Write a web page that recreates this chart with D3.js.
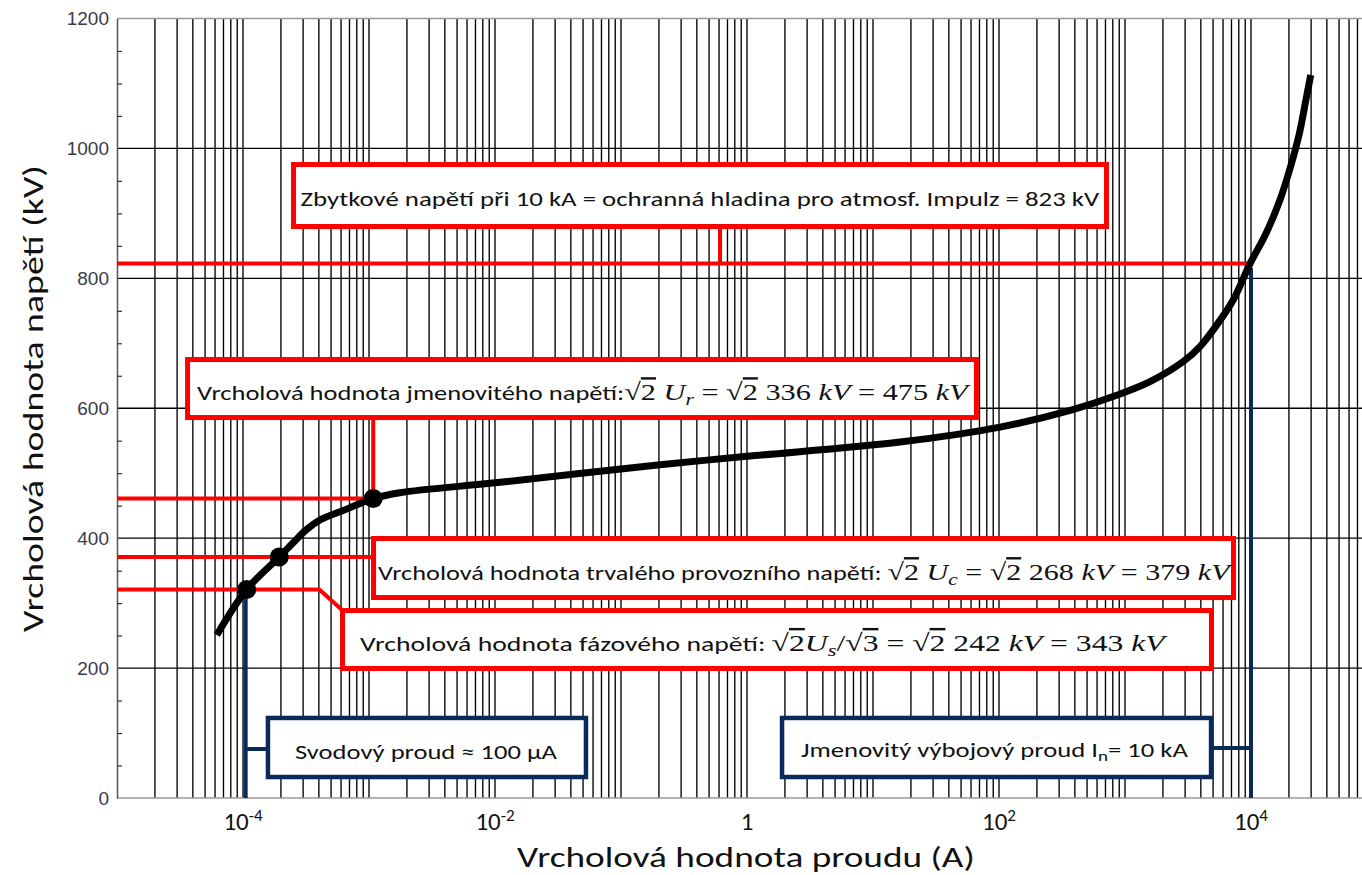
<!DOCTYPE html>
<html><head><meta charset="utf-8">
<script src="https://cdn.jsdelivr.net/npm/d3@7"></script>
<style>
html,body{margin:0;padding:0;background:#fff;}
svg{display:block;}
</style></head><body>
<svg id="chart" width="1362" height="875"></svg>
<script>
// ---------- DATA ----------
const curveCurrent = [6.2e-5, 1.07e-4, 1.94e-4, 2.49e-4, 3.16e-4, 4.08e-4, 6.22e-4, 1.08e-3, 1.76e-3, 1.1e-2, 0.204, 1, 16.4, 102, 386, 859, 1578, 2900, 3936, 5340, 7240, 9850, 1.315e4, 1.7e4, 2.06e4, 2.42e4, 2.73e4, 2.98e4];
const curveVoltage = [251, 321, 371, 392.5, 412.6, 428, 442.6, 461, 470, 486, 513, 526, 548, 571, 598, 620, 641, 672, 695, 728, 767, 823, 869, 921, 972, 1023, 1075, 1113];
const markerCurrent = [1.07e-4, 1.94e-4, 1.08e-3];
const markerVoltage = [321, 371, 461];
const residualCurrent = 1e4;
const residualVoltage = 823;
const leakageCurrent = 1.05e-4;
const yTickValues = [0, 200, 400, 600, 800, 1000, 1200];
const xTickValues = [1e-4, 1e-2, 1, 1e2, 1e4];
const xTickBase = ["10", "10", "1", "10", "10"];
const xTickSup = ["-4", "-2", "", "2", "4"];
const xTitle = "Vrcholová hodnota proudu (A)";
const yTitle = "Vrcholová hodnota napětí (kV)";

const boxTexts = [
  [["Zbytkové napětí při 10 kA = ochranná hladina pro atmosf. Impulz = 823 kV","t"]],
  [["Vrcholová hodnota jmenovitého napětí:","t"],["√","m"],["2","ov"],[" ","m"],["U","i"],["r","sub"],[" = √","m"],["2","ov"],[" 336 ","m"],["kV","i"],[" = 475 ","m"],["kV","i"]],
  [["Vrcholová hodnota trvalého provozního napětí: ","t"],["√","m"],["2","ov"],[" ","m"],["U","i"],["c","sub"],[" = √","m"],["2","ov"],[" 268 ","m"],["kV","i"],[" = 379 ","m"],["kV","i"]],
  [["Vrcholová hodnota fázového napětí: ","t"],["√","m"],["2","ov"],["U","i"],["s","sub"],["/√","m"],["3","ov"],[" = √","m"],["2","ov"],[" 242 ","m"],["kV","i"],[" = 343 ","m"],["kV","i"]],
  [["Svodový proud ≈ 100 µA","t"]],
  [["Jmenovitý výbojový proud I","t"],["n","tsub"],["= 10 kA","t"]]
];

// ---------- LAYOUT (annotation geometry in data units: log10 current, kV) ----------
const boxLayout = [
  {x0:-3.599, x1:2.853, v0:975.2, v1:879.8, color:"red",  sw:5,   tw:799, dx:0,    dy:10.5},
  {x0:-4.440, x1:1.821, v0:675.0, v1:585.7, color:"red",  sw:5,   tw:771, dx:0.5,  dy:11.5},
  {x0:-2.964, x1:3.861, v0:399.5, v1:308.6, color:"red",  sw:5,   tw:852, dx:0.5,  dy:12},
  {x0:-3.210, x1:3.686, v0:288.6, v1:199.4, color:"red",  sw:5,   tw:805, dx:-14.5,dy:11.5},
  {x0:-3.802, x1:-1.278,v0:123.2, v1:32.3,  color:"navy", sw:4.5, tw:262, dx:-1,   dy:11.5},
  {x0:0.278,  x1:3.683, v0:123.2, v1:32.3,  color:"navy", sw:4.5, tw:387, dx:-2,   dy:9.5}
];
const RED = "#ff0000", NAVY = "#0b2a5c";
const colorOf = c => c === "red" ? RED : NAVY;

const svg = d3.select("#chart");
const x = d3.scaleLog().domain([1e-5, 1e5]).range([117, 1377]);
const y = d3.scaleLinear().domain([0, 1200]).range([798, 18.5]);
const X = e => x(Math.pow(10, e));

// ---------- GRID ----------
const gridVals = [];
for (let k = -5; k <= 4; k++) for (let m = 1; m <= 9; m++) gridVals.push(m * Math.pow(10, k));
svg.append("g").selectAll("line").data(gridVals.filter(v => v > 1e-5)).join("line")
  .attr("x1", d => x(d)).attr("x2", d => x(d))
  .attr("y1", y(0)).attr("y2", y(1200))
  .attr("stroke", "#000").attr("stroke-width", 1.35);
svg.append("g").selectAll("line").data(yTickValues.filter(v => v > 0 && v < 1200)).join("line")
  .attr("x1", x(1e-5)).attr("x2", 1362)
  .attr("y1", d => y(d)).attr("y2", d => y(d))
  .attr("stroke", "#000").attr("stroke-width", 1.35);

// frame
svg.append("line").attr("x1", x(1e-5)).attr("x2", 1362).attr("y1", y(1200)).attr("y2", y(1200)).attr("stroke", "#9a9a9a").attr("stroke-width", 1.5);
svg.append("line").attr("x1", x(1e-5)).attr("x2", 1362).attr("y1", y(0)).attr("y2", y(0)).attr("stroke", "#9a9a9a").attr("stroke-width", 1.5);

// y axis
const yAxis = svg.append("g").attr("transform", `translate(${x(1e-5)},0)`)
  .call(d3.axisLeft(y).tickValues(yTickValues).tickFormat(d3.format("d")).tickSize(0).tickPadding(8));
yAxis.select(".domain").attr("stroke", "#555").attr("stroke-width", 1.5);
yAxis.selectAll("text").attr("font-family", "'Liberation Sans', Arial, sans-serif").attr("font-size", 19).attr("fill", "#3a3a48");
const minorY = d3.range(50, 1200, 50).filter(v => v % 200 !== 0);
const yMinor = svg.append("g").attr("transform", `translate(${x(1e-5)},0)`)
  .call(d3.axisRight(y).tickValues(minorY).tickSize(5).tickFormat(""));
yMinor.select(".domain").remove();
yMinor.selectAll("line").attr("stroke", "#333").attr("stroke-width", 1.2);

// x tick labels
const FONT = "Carlito, Lato, 'Open Sans', sans-serif";
const xl = svg.append("g").selectAll("text").data(xTickValues).join("text")
  .attr("x", d => x(d)).attr("y", 830)
  .attr("text-anchor", "middle")
  .attr("font-family", FONT).attr("font-size", 25).attr("fill", "#111");
xl.append("tspan").text((d, i) => xTickBase[i]);
xl.append("tspan").attr("font-size", 17).attr("baseline-shift", "55%").text((d, i) => xTickSup[i]);

// axis titles
function fitPlain(sel, target) {
  const w = sel.node().getComputedTextLength();
  return target / w;
}
const xt = svg.append("text").attr("font-family", FONT).attr("font-size", 29).attr("fill", "#111").text(xTitle);
const sx = fitPlain(xt, 458);
xt.attr("transform", `translate(517,867) scale(${sx},1)`);
const yt = svg.append("text").attr("font-family", FONT).attr("font-size", 29).attr("fill", "#111").text(yTitle);
const sy = fitPlain(yt, 467);
yt.attr("transform", `translate(43,632) rotate(-90) scale(${sy},1)`);

// ---------- LEADER LINES ----------
const lines = svg.append("g").attr("fill", "none");
lines.append("line").attr("x1", x(leakageCurrent)).attr("x2", x(leakageCurrent)).attr("y1", y(0)).attr("y2", y(markerVoltage[0])).attr("stroke", NAVY).attr("stroke-width", 4);
lines.append("line").attr("x1", x(residualCurrent)).attr("x2", x(residualCurrent)).attr("y1", y(0)).attr("y2", y(816)).attr("stroke", NAVY).attr("stroke-width", 4);
lines.append("line").attr("x1", x(leakageCurrent)).attr("x2", X(boxLayout[4].x0)).attr("y1", y(75.4)).attr("y2", y(75.4)).attr("stroke", NAVY).attr("stroke-width", 4);
lines.append("line").attr("x1", X(boxLayout[5].x1)).attr("x2", x(residualCurrent)).attr("y1", y(77)).attr("y2", y(77)).attr("stroke", NAVY).attr("stroke-width", 4);
lines.append("line").attr("x1", x(1e-5)).attr("x2", x(residualCurrent) + 2).attr("y1", y(residualVoltage)).attr("y2", y(residualVoltage)).attr("stroke", RED).attr("stroke-width", 4);
lines.append("line").attr("x1", X(-0.214)).attr("x2", X(-0.214)).attr("y1", y(residualVoltage)).attr("y2", y(boxLayout[0].v1)).attr("stroke", RED).attr("stroke-width", 4);
lines.append("line").attr("x1", x(1e-5)).attr("x2", x(markerCurrent[2])).attr("y1", y(markerVoltage[2])).attr("y2", y(markerVoltage[2])).attr("stroke", RED).attr("stroke-width", 4);
lines.append("line").attr("x1", x(markerCurrent[2])).attr("x2", x(markerCurrent[2])).attr("y1", y(markerVoltage[2])).attr("y2", y(boxLayout[1].v1)).attr("stroke", RED).attr("stroke-width", 4);
lines.append("line").attr("x1", x(1e-5)).attr("x2", X(boxLayout[2].x0)).attr("y1", y(markerVoltage[1])).attr("y2", y(markerVoltage[1])).attr("stroke", RED).attr("stroke-width", 4);
lines.append("path").attr("d", d3.line()([[x(1e-5), y(markerVoltage[0])], [X(-3.394), y(markerVoltage[0])], [X(boxLayout[3].x0), y(boxLayout[3].v0)]]))
  .attr("stroke", RED).attr("stroke-width", 4);

// ---------- BOXES ----------
const SERIF = "'Liberation Serif', 'DejaVu Serif', serif";
const styles = {
  t:   {ff: FONT, fs: 21, fst: "normal"},
  tsub:{ff: FONT, fs: 15, fst: "normal", bs: "-30%"},
  m:   {ff: SERIF, fs: 24, fst: "normal"},
  ov:  {ff: SERIF, fs: 24, fst: "normal", ov: true},
  i:   {ff: SERIF, fs: 24, fst: "italic"},
  sub: {ff: SERIF, fs: 17, fst: "italic", bs: "-30%"}
};
boxLayout.forEach((b, bi) => {
  const g = svg.append("g");
  const rx0 = X(b.x0), rx1 = X(b.x1), ry0 = y(b.v0), ry1 = y(b.v1);
  g.append("rect").attr("x", rx0).attr("y", ry0).attr("width", rx1 - rx0).attr("height", ry1 - ry0)
    .attr("fill", "#fff").attr("stroke", colorOf(b.color)).attr("stroke-width", b.sw);
  const t = g.append("text").attr("fill", "#111");
  boxTexts[bi].forEach(([s, st]) => {
    const S = styles[st];
    const ts = t.append("tspan").text(s).attr("font-family", S.ff).attr("font-size", S.fs).attr("font-style", S.fst);
    if (S.bs) ts.attr("baseline-shift", S.bs);
    if (S.ov) ts.style("text-decoration", "overline");
  });
  const w = t.node().getComputedTextLength();
  const cx = (rx0 + rx1) / 2 + b.dx, cy = (ry0 + ry1) / 2 + b.dy;
  t.attr("transform", `translate(${cx - b.tw / 2},${cy}) scale(${b.tw / w},1)`);
});

// ---------- CURVE ----------
const pts = curveCurrent.map((c, i) => [x(c), y(curveVoltage[i])]);
svg.append("path").attr("d", d3.line().curve(d3.curveCatmullRom.alpha(0.5))(pts))
  .attr("fill", "none").attr("stroke", "#000").attr("stroke-width", 7).attr("stroke-linecap", "butt");
svg.append("g").selectAll("circle").data(markerCurrent).join("circle")
  .attr("cx", d => x(d)).attr("cy", (d, i) => y(markerVoltage[i])).attr("r", 9.5).attr("fill", "#000");
</script>
</body></html>
